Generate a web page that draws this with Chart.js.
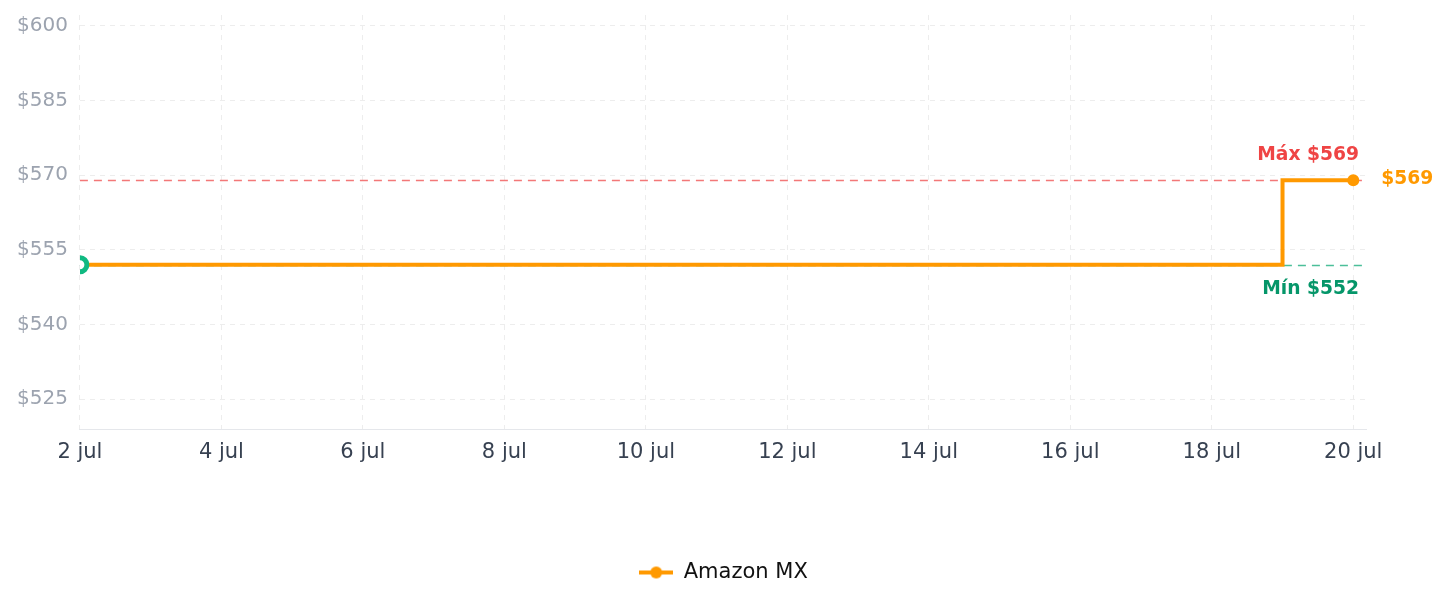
<!DOCTYPE html>
<html>
<head>
<meta charset="utf-8">
<script src="https://cdn.jsdelivr.net/npm/chart.js@4/dist/chart.umd.min.js"></script>
<style>
    html, body { margin: 0; padding: 0; background: #fff; }
    #wrap { width: 1447px; height: 607px; position: relative; }
</style>
</head>
<body>
<div id="wrap"><canvas id="priceChart"></canvas></div>
<script>
// days of July with a recorded price
const days = [2, 19, 20];
const prices = [552, 569, 569];
const seriesName = 'Amazon MX';

const xTicks = [2, 4, 6, 8, 10, 12, 14, 16, 18, 20];
const yTicks = [525, 540, 555, 570, 585, 600];

const maxPrice = 569;
const minPrice = 552;
const lastPrice = 569;

const ORANGE = '#ff9900';

document.addEventListener('DOMContentLoaded', function () {
    Chart.defaults.font.family = "'DejaVu Sans', sans-serif";

    // legend icon: short line with a dot in the middle
    const legendIcon = document.createElement('canvas');
    legendIcon.width = 34;
    legendIcon.height = 14;
    const ic = legendIcon.getContext('2d');
    ic.strokeStyle = ORANGE;
    ic.lineWidth = 4;
    ic.beginPath();
    ic.moveTo(0, 7);
    ic.lineTo(34, 7);
    ic.stroke();
    ic.fillStyle = ORANGE;
    ic.beginPath();
    ic.arc(17, 7, 6, 0, Math.PI * 2);
    ic.fill();

    const refLines = {
        id: 'refLines',
        afterLayout(chart) {
            // center the legend on the whole canvas
            if (chart.legend) {
                chart.legend.left = 0;
                chart.legend.right = chart.width;
            }
        },
        beforeDatasetsDraw(chart) {
            const { ctx, chartArea, scales } = chart;
            const lines = [
                { v: maxPrice, color: 'rgba(239, 68, 68, 0.72)' },
                { v: minPrice, color: 'rgba(16, 170, 120, 0.75)' }
            ];
            ctx.save();
            ctx.lineWidth = 1.5;
            ctx.setLineDash([8, 6]);
            lines.forEach(l => {
                const y = Math.round(scales.y.getPixelForValue(l.v)) + 0.5;
                ctx.strokeStyle = l.color;
                ctx.beginPath();
                ctx.moveTo(chartArea.left, y);
                ctx.lineTo(chartArea.right, y);
                ctx.stroke();
            });
            ctx.restore();
        },
        afterDatasetsDraw(chart) {
            const { ctx, chartArea, scales } = chart;
            const yMax = scales.y.getPixelForValue(maxPrice);
            const yMin = scales.y.getPixelForValue(minPrice);
            ctx.save();
            ctx.font = "bold 18.7px 'DejaVu Sans', sans-serif";
            ctx.textBaseline = 'middle';
            ctx.textAlign = 'right';
            ctx.fillStyle = '#ef4444';
            ctx.fillText('Máx $' + maxPrice, chartArea.right - 7, yMax - 25);
            ctx.fillStyle = '#059669';
            ctx.fillText('Mín $' + minPrice, chartArea.right - 7, yMin + 24);
            ctx.textAlign = 'left';
            ctx.fillStyle = ORANGE;
            const xLast = scales.x.getPixelForValue(days[days.length - 1]);
            ctx.fillText('$' + lastPrice, xLast + 28, scales.y.getPixelForValue(lastPrice) - 1);
            ctx.restore();
        }
    };

    const ctx = document.getElementById('priceChart').getContext('2d');
    new Chart(ctx, {
        type: 'line',
        data: {
            datasets: [{
                label: seriesName,
                data: days.map((d, i) => ({ x: d, y: prices[i] })),
                borderColor: ORANGE,
                backgroundColor: ORANGE,
                borderWidth: 4,
                stepped: 'before',
                fill: false,
                clip: 0,
                pointRadius: [7, 0, 6],
                pointBorderWidth: [5, 0, 0],
                pointBackgroundColor: ['#ffffff', ORANGE, ORANGE],
                pointBorderColor: ['#10b981', ORANGE, ORANGE]
            }]
        },
        options: {
            responsive: true,
            maintainAspectRatio: false,
            animation: false,
            layout: {
                padding: { left: 5, right: 81, top: 15, bottom: 14 }
            },
            scales: {
                x: {
                    type: 'linear',
                    min: 2,
                    max: 20.18,
                    afterBuildTicks: function (scale) {
                        scale.ticks = xTicks.map(v => ({ value: v }));
                    },
                    afterFit: function (scale) {
                        scale.height = 123;
                    },
                    grid: {
                        color: '#ededed',
                        drawTicks: false
                    },
                    border: {
                        display: true,
                        color: '#e5e7eb',
                        width: 1,
                        dash: [5, 5]
                    },
                    ticks: {
                        color: '#374151',
                        padding: 11,
                        maxRotation: 0,
                        font: { size: 21 },
                        callback: v => v + ' jul'
                    }
                },
                y: {
                    min: 519,
                    max: 602.2,
                    afterBuildTicks: function (scale) {
                        scale.ticks = yTicks.map(v => ({ value: v }));
                    },
                    afterFit: function (scale) {
                        scale.paddingTop = 0;
                        scale.paddingBottom = 0;
                    },
                    grid: {
                        color: '#ededed',
                        drawTicks: false
                    },
                    border: {
                        display: false,
                        dash: [5, 5]
                    },
                    ticks: {
                        color: '#9ca3af',
                        padding: 12,
                        font: { size: 20 },
                        callback: v => '$' + v
                    }
                }
            },
            plugins: {
                tooltip: { enabled: false },
                legend: {
                    position: 'bottom',
                    labels: {
                        color: '#111111',
                        font: { size: 21 },
                        usePointStyle: true,
                        pointStyleWidth: 34,
                        generateLabels: function (chart) {
                            return Chart.defaults.plugins.legend.labels.generateLabels(chart).map(item => {
                                item.pointStyle = legendIcon;
                                return item;
                            });
                        }
                    }
                }
            }
        },
        plugins: [refLines]
    });
});
</script>
</body>
</html>
